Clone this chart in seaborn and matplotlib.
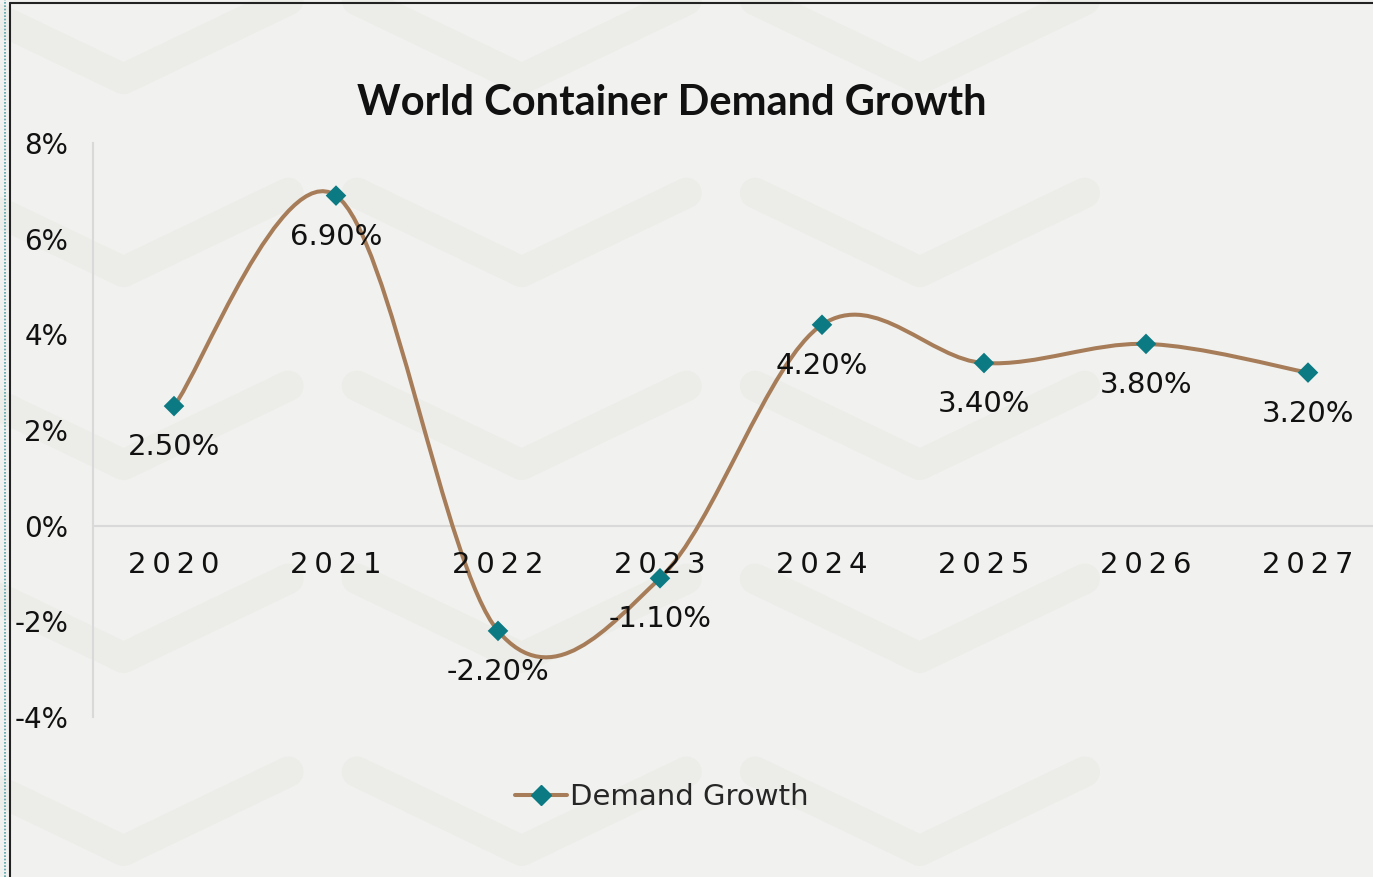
from matplotlib import pyplot as plt
from matplotlib.path import Path
from matplotlib.patches import PathPatch
from matplotlib.lines import Line2D
import numpy as np
import seaborn as sb

years = ["2020", "2021", "2022", "2023", "2024", "2025", "2026", "2027"]
growth = [2.5, 6.9, -2.2, -1.1, 4.2, 3.4, 3.8, 3.2]
labels = ["2.50%", "6.90%", "-2.20%", "-1.10%", "4.20%", "3.40%", "3.80%", "3.20%"]
yticks = [-4, -2, 0, 2, 4, 6, 8]
ytick_labels = ["-4%", "-2%", "0%", "2%", "4%", "6%", "8%"]

LINE = "#A67D58"
MARK = "#0B7A83"
BG = "#F1F1EF"
GRID = "#D9D9D9"
TXT = "#111111"

sb.set_style("white")
plt.rcParams["font.family"] = ["DejaVu Sans"]

fig = plt.figure(figsize=(13.73, 8.77), dpi=100)
fig.patch.set_facecolor(BG)

# faint chevron pattern in the background
for cy in [1.0, 0.78, 0.56, 0.34, 0.12, -0.10]:
    for cx in [0.09, 0.38, 0.67]:
        xs = [cx - 0.12, cx, cx + 0.12]
        ys = [cy, cy - 0.09, cy]
        fig.add_artist(Line2D(xs, ys, transform=fig.transFigure, color="#ECECE9",
                              lw=22, solid_capstyle="round", solid_joinstyle="round", zorder=0))

ax = fig.add_axes([93 / 1373, 160 / 877, 1296 / 1373, 574 / 877])
ax.set_facecolor("none")

x = np.arange(len(years))
y = np.array(growth)

# smoothed line (bezier segments like Excel's smoothing)
px = np.concatenate([[x[0]], x, [x[-1]]])
py = np.concatenate([[y[0]], y, [y[-1]]])
verts = [(x[0], y[0])]
codes = [Path.MOVETO]
for i in range(1, len(px) - 2):
    c1 = (px[i] + (px[i + 1] - px[i - 1]) / 6, py[i] + (py[i + 1] - py[i - 1]) / 6)
    c2 = (px[i + 1] - (px[i + 2] - px[i]) / 6, py[i + 1] - (py[i + 2] - py[i]) / 6)
    verts += [c1, c2, (px[i + 1], py[i + 1])]
    codes += [Path.CURVE4] * 3
ax.add_patch(PathPatch(Path(verts, codes), facecolor="none", edgecolor=LINE, lw=2.9,
                       capstyle="round", zorder=2))

sb.scatterplot(x=x, y=y, marker="D", s=110, color=MARK, edgecolor="none", zorder=3, ax=ax)

for xi, yi, lab in zip(x, y, labels):
    ax.annotate(lab, (xi, yi), xytext=(0, -29.5), textcoords="offset points",
                ha="center", va="center", fontsize=21, color=TXT)

for xi, yr in zip(x, years):
    ax.annotate("\u2009".join(yr), (xi, 0), xytext=(0, -28), textcoords="offset points",
                ha="center", va="center", fontsize=21, color=TXT)

ax.axhline(0, color=GRID, lw=1.5, zorder=1)
ax.set_xlim(-0.5, 7.5)
ax.set_ylim(-4, 8)
ax.set_yticks(yticks)
ax.set_yticklabels(ytick_labels, fontsize=20, color=TXT)
ax.set_xticks([])
ax.tick_params(axis="y", length=0, pad=18)
for s in ["top", "right", "bottom"]:
    ax.spines[s].set_visible(False)
ax.spines["left"].set_color(GRID)
ax.spines["left"].set_linewidth(1.5)

fig.text(0.489, 0.8826, "World Container Demand Growth", ha="center", va="center",
         fontsize=30, fontweight="bold", color=TXT, family=["Lato", "DejaVu Sans"])

handle = Line2D([], [], color=LINE, lw=2.9, marker="D", markersize=10,
                markerfacecolor=MARK, markeredgecolor=MARK)
fig.legend([handle], ["Demand Growth"], loc="center", bbox_to_anchor=(0.482, 0.091),
           frameon=False, fontsize=21, handlelength=1.8, handletextpad=0.1)

# frame edges
fig.add_artist(Line2D([10 / 1373, 10 / 1373], [0, 1 - 3 / 877], transform=fig.transFigure,
                      color="#222222", lw=1.5))
fig.add_artist(Line2D([10 / 1373, 1], [1 - 3 / 877, 1 - 3 / 877], transform=fig.transFigure,
                      color="#222222", lw=1.5))
fig.add_artist(Line2D([5 / 1373, 5 / 1373], [0, 1], transform=fig.transFigure,
                      color="#4FA3AA", lw=1.2, ls=(0, (1, 1))))

fig.savefig("out.png", dpi=100, facecolor=BG)
